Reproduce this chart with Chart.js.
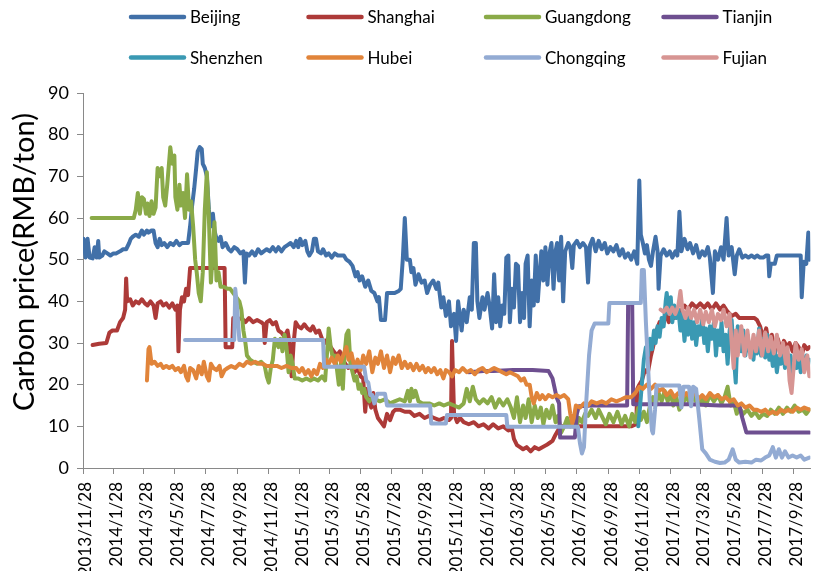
<!DOCTYPE html>
<html>
<head>
<meta charset="utf-8">
<script src="https://cdn.jsdelivr.net/npm/chart.js@4.4.0/dist/chart.umd.min.js"></script>
<style>
  html, body { margin: 0; padding: 0; background: #ffffff; }
  #wrap { position: relative; width: 822px; height: 571px; }
</style>
</head>
<body>
<div id="wrap"><canvas id="chart" width="822" height="571"></canvas></div>
<script>
// Daily carbon prices of the Chinese pilot ETS markets, RMB per ton.
// x values are days counted from 2013-11-28.
const tickLabels = ['2013/11/28','2014/1/28','2014/3/28','2014/5/28','2014/7/28','2014/9/28',
  '2014/11/28','2015/1/28','2015/3/28','2015/5/28','2015/7/28','2015/9/28','2015/11/28',
  '2016/1/28','2016/3/28','2016/5/28','2016/7/28','2016/9/28','2016/11/28','2017/1/28',
  '2017/3/28','2017/5/28','2017/7/28','2017/9/28'];

const seriesNames = ['Beijing','Shanghai','Guangdong','Tianjin','Shenzhen','Hubei','Chongqing','Fujian'];
const seriesColors = ['#4170A8','#AD3A38','#8AAA48','#6E4F90','#3A99B3','#E1843A','#93ABD3','#D79593'];

const beijingDays = [1,5,9,13,19,23,27,30,32,38,42,48,54,60,65,73,79,85,91,94,98,104,110,116,120,126,129,135,139,143,147,151,155,160,166,172,178,184,190,195,201,207,211,215,219,223,226,230,234,236,240,244,248,252,256,259,263,267,271,275,281,287,292,298,304,310,316,319,322,327,333,339,345,351,356,362,368,374,380,385,391,397,403,409,415,420,424,428,432,438,442,446,451,455,459,463,469,473,479,484,490,496,502,508,514,519,525,531,537,541,545,550,556,562,568,574,580,583,587,595,599,607,614,622,626,630,634,638,644,647,651,655,661,667,673,678,684,690,696,700,706,710,715,721,725,731,735,739,743,746,750,756,762,766,770,774,777,781,787,791,797,801,806,810,814,818,822,826,830,834,838,841,845,849,853,857,861,865,869,872,876,880,884,888,892,896,900,903,907,911,915,919,923,927,931,934,938,942,946,950,956,960,964,967,973,979,985,991,995,999,1004,1010,1016,1022,1028,1033,1039,1045,1051,1057,1063,1068,1074,1080,1086,1092,1096,1099,1103,1107,1111,1115,1119,1123,1128,1132,1134,1138,1144,1150,1156,1161,1167,1171,1175,1179,1185,1191,1196,1202,1208,1214,1220,1225,1231,1235,1241,1245,1251,1257,1262,1268,1272,1278,1284,1288,1293,1299,1305,1311,1317,1323,1328,1334,1340,1346,1350,1352,1355,1363,1367,1381,1400,1414,1416,1420,1425,1429,1431];
const beijingPrices = [55,50.5,55,50.5,50.3,53,50.5,54.5,50.5,51,52,51.5,51,51.5,51.5,52,52.5,52.5,54,55,55.5,56,55.5,57,56,57,56.5,57,57,54,53,55,53.5,54,53,54,53.5,54.5,53.5,54,54,54,58,63,67,72,76,77,76.5,73,72,70,62,58,61,57,55,54.5,55.5,53,54,52.5,52,53,52.5,51.5,52,44.5,51.5,51,52,51,52.5,51.5,52,52.5,52,53,52,53,52,53,53.5,54,53,54.5,53,55,53.5,54.5,52,51,52,55,55,52,51.5,52.5,51,51.5,50.5,51.5,51,51,51,50,49.5,48.5,46,47,45,46,43.5,45,42.5,42,40,41,35.5,35.5,42,42,42,42.5,43,50,60,50,50,47,48,44,46.5,44.5,45,42,44,45,43,44.5,38.5,41,36.5,40,34,37,30.5,40,36,33,38,35,41,38,54,54,40,36,41,38,42,39,33.5,46.5,35,41,34,39,37,50.5,51,35,43,38.5,49,48.5,35,42,36,49,51,34,45,39,51,40,47,52,45,53,44,51.5,54,43,52,54,45,55.5,40,52,54,53,48,53.5,54.5,53,54,53,44.5,53.5,55,52,54.5,52.5,54,51.5,53,52,53.5,51,52.5,50.5,51.5,50,52,49,69,56,54,51.5,53.5,50,48.5,52,55.5,52,43,51,52.5,51,52,50.5,52,51,61.5,52,55,52.5,54,51.5,53.5,50.5,52,51,53,50.5,42,52,50,53,50,60,51,53,46.5,51,52.5,50.5,51,50.5,51,50.5,51,50.5,50.5,51,51,46,49,49,51,51,51,51,41,49.5,49,56.5,50];

const shanghaiDays = [19,32,46,52,58,67,73,79,83,85,87,93,98,104,110,116,122,127,133,139,143,147,153,158,164,170,176,182,186,188,191,195,199,203,207,211,226,246,265,279,281,294,296,304,312,320,327,335,343,351,356,358,362,368,374,380,385,391,397,403,407,411,415,419,424,430,436,442,448,453,459,465,471,477,482,488,494,500,506,512,517,523,529,535,541,547,552,556,560,564,568,572,576,581,587,593,599,605,611,616,624,634,644,653,663,673,682,692,702,711,721,725,727,731,737,743,750,760,770,779,789,799,808,818,828,838,845,849,855,861,867,874,882,890,898,905,913,919,925,931,938,944,964,1002,1041,1080,1090,1092,1096,1101,1107,1113,1119,1125,1130,1136,1142,1148,1154,1160,1165,1171,1177,1185,1192,1200,1208,1216,1224,1231,1239,1247,1255,1262,1270,1278,1286,1293,1303,1313,1323,1328,1334,1340,1346,1352,1357,1363,1369,1375,1381,1387,1392,1398,1404,1410,1416,1421,1427,1431];
const shanghaiPrices = [29.5,29.8,30,32.5,33,33,35,36,38,45.5,40,40.5,39,40,39.5,40.5,39.5,39,40,39,36,39.5,40,39,39.5,38.5,39.5,38,39,28,38,41,40,43,41.5,48,48,48,48,48,29,29,36,35.5,36,35,36,35,35.5,35,34.5,30,35,35.5,34.5,35,33,32.5,31.5,33,30,22,30,35,34,33.5,34.5,33.5,33,34,32.5,33,31,30,31,29,28,27,28,26,25,24,25,23,24,22,21.5,13.5,19,16,14.5,18,14,12,11,10,13,11.5,13.5,14,14,13.5,13.5,12.5,13,12,12.5,12,11.5,12,11.5,12,30.5,13,11,12,11,10.5,11,10,10.5,9.5,10.5,9.5,10,9,9.5,7,5.5,5,4.5,5,4,5,4.5,5,5.5,6,6.5,8,9.5,10,10,10,10,10,10.5,19,20,21,23.5,23,27,30,33,35,34,37,35,37.5,36,38,37.5,39,38,39.5,38.5,39.5,38.5,39.5,38,39.5,38,39,37.5,36.5,37,36,36,36,36,35.5,34,31,33.5,29,32,27.5,31,28,30.5,29,30,28,30,29,27,29.5,28.5,29];

const guangdongDays = [17,32,52,71,91,100,104,108,112,116,120,124,127,131,135,139,143,147,151,155,158,162,166,170,172,176,180,182,186,190,193,197,201,205,209,213,217,221,224,228,232,236,240,244,248,252,256,259,263,267,271,277,285,290,296,302,308,312,316,320,323,329,335,343,351,358,362,366,370,374,378,382,385,389,393,397,401,405,409,413,417,424,432,440,448,455,463,471,477,481,484,488,492,496,500,504,508,512,515,519,523,527,531,535,539,543,547,550,554,558,564,570,576,585,595,605,614,624,634,640,644,647,651,655,661,669,682,692,702,711,721,731,741,750,756,762,768,774,781,789,797,805,812,820,828,836,843,849,855,861,867,872,878,884,890,896,902,907,913,919,925,931,936,942,948,954,960,966,971,977,983,989,995,1002,1010,1016,1022,1030,1037,1045,1053,1061,1068,1076,1082,1088,1094,1099,1105,1111,1117,1123,1128,1134,1140,1146,1152,1158,1163,1169,1175,1181,1189,1196,1204,1212,1220,1227,1235,1243,1251,1258,1264,1270,1276,1282,1288,1293,1301,1309,1317,1324,1332,1340,1348,1355,1363,1371,1379,1387,1394,1402,1410,1418,1425,1431];
const guangdongPrices = [60,60,60,60,60,60,62,66,61,65,64.5,61,63.5,60.5,64,61,62.5,72,70,72,65,63,68,74,77,73,75,65,62,68,63,66,60,70.5,62,64,58,50,47,42,40,47,62,71,60,44.5,52,59,45,47,43.5,43.5,43,43,42,41,40,38,33,30,27,26,25.5,25,25.5,24.5,22,20.5,24,26,31,30,29,31,28,32,29,23,27,25,21.5,21.5,21,21.5,21,21.5,21,22,21,28,33.5,29,26.5,27,24,20,25,19,27,32,33,25,23,21,22,19,20,18,19,17,16,17,16.5,16,16.5,15.5,16,16.5,16,18.5,16,19,17,18.5,16,15.5,15.5,15,15.5,15,15.5,15,14.5,15.5,19,16,19.5,16.5,15.5,16.5,15.5,17,14.5,16.5,15,16.5,14.5,12,17,11,15,12,16.5,11,15,12,14.5,10.5,14,12,15,11,12.5,8.5,10,12,10,11.5,9.5,12,11,13,12.5,14,12,14,12.5,10.5,13,11,13.5,10.5,12.5,10,13,11,14.5,11.5,13.5,11,15,17,15,18,16,18.5,16,18,15,17,14,15.5,17,15.5,17,15,16.5,15,17.5,16,17.5,15.5,17,19.5,15,16,13,14.5,13,14,12.5,13.5,12,13,12.5,14,13,14.5,13,14.5,13.5,15,13.5,14,13,14];

const tianjinDays = [760,789,808,847,886,917,925,933,938,940,969,973,977,1002,1041,1072,1074,1082,1084,1119,1196,1255,1293,1299,1307,1352,1390,1431];
const tianjinPrices = [23,23.3,23.3,23.5,23.5,23.3,21.5,17,15.5,7.3,7.3,13,14.8,15,15,15,39.5,39.5,15.3,15.3,15.3,15,15,12,8.5,8.5,8.5,8.5];

const shenzhenDays = [1094,1097,1101,1105,1109,1113,1117,1121,1125,1128,1132,1136,1140,1144,1148,1150,1154,1158,1161,1165,1169,1173,1177,1181,1185,1189,1192,1196,1200,1204,1208,1212,1216,1220,1224,1227,1231,1235,1239,1243,1247,1251,1255,1258,1262,1266,1270,1274,1278,1282,1286,1290,1293,1297,1301,1305,1309,1313,1317,1321,1324,1328,1332,1336,1340,1344,1348,1352,1355,1359,1363,1367,1371,1375,1379,1383,1387,1390,1394,1398,1402,1406,1410,1414,1418,1421,1425,1429,1431];
const shenzhenPrices = [10,14,20,26,29,27,31,28.5,33,30,34,31.5,36,34,40,42,37,41,35,39,36,38,33,37,30.5,36,32,37,31,35,29.5,34,32,36,30,33.5,28,34,31,35,27,33,29.5,35,28,32,25,33,35.5,27,20.5,34,31,28,33,27,32,28,30,26,31,27.5,33.5,27,31,26.5,32,26,29,24.5,28,23,27,25,29,24,28,25,27,22.5,26,24,27.5,23,26,24.5,27,25,26];

const hubeiDays = [126,129,131,135,141,147,153,158,164,170,176,182,188,193,199,203,207,211,217,223,228,234,238,244,248,252,257,263,269,273,279,285,292,300,308,316,323,331,339,347,354,362,372,382,391,401,411,420,426,432,438,444,450,455,461,467,473,479,484,490,496,502,508,514,519,523,529,535,541,547,552,558,564,570,576,581,587,593,599,605,611,616,622,628,634,640,645,651,657,663,669,675,680,686,692,698,704,710,715,721,727,733,741,748,756,764,772,779,787,795,803,810,818,826,834,841,849,857,863,869,874,880,884,888,894,900,905,911,917,925,933,940,948,956,960,964,967,971,979,987,995,1002,1012,1022,1031,1041,1051,1061,1070,1080,1088,1096,1103,1111,1119,1127,1134,1142,1150,1158,1165,1173,1181,1189,1196,1204,1212,1220,1227,1235,1243,1251,1258,1266,1274,1282,1290,1297,1305,1313,1321,1328,1336,1344,1352,1359,1367,1375,1383,1390,1398,1406,1414,1421,1431];
const hubeiPrices = [21,28.5,29,25,25.5,24.5,25,24,24.5,24,24.5,23.5,24,23,24.5,22,21,24,23.5,21.5,24.5,22.5,25.5,22,21,25,24,23.5,24.5,22,23.5,24,24.5,24,25,24.5,25.5,25,25.5,25,25,24.5,24.5,24.5,24,24.5,24,24,23,24,22.5,23.5,22,23.5,22.5,25,24,26,25,26.5,25,27,25.5,27.5,29,26,27.5,24,26,23.5,27,25,28,23,26.5,25,28,24,27,23,26.5,25,27,24,25.5,24,25,23.5,25,23.5,24.5,23,24,23,24,22.5,23.5,21.5,23.5,23,22,23.5,23,24,23,23.5,22.5,23.5,24,23,23.5,24,23.5,23,22.5,23,22.5,22,21,21.5,20,20,17,15.5,18,16.5,17.5,16.5,17.5,17,17.5,17,17.5,16.5,13,10.7,12,15,14.5,15.5,15,16,15.5,16,15.5,16.5,16,16.5,17,17,18,19.5,19,20,19,20,18.5,19,17.5,18.5,17,18,17,18,17,18.5,16.5,17.5,16.5,18,17,17.5,16.5,17,16,16.5,15,15.5,14.5,15,14,14,13.5,14,13,13.5,13,14,13.5,14,13.5,14.5,14,14.5,14];

const chongqingDays = [201,298,300,304,308,473,475,554,558,562,566,570,574,580,595,599,684,686,715,717,834,836,975,979,983,987,991,997,1002,1008,1035,1037,1099,1101,1105,1109,1113,1117,1121,1123,1127,1130,1175,1179,1183,1194,1198,1202,1208,1214,1220,1227,1235,1245,1255,1264,1272,1280,1286,1293,1305,1317,1326,1336,1344,1352,1359,1365,1371,1377,1383,1390,1398,1406,1414,1421,1431];
const chongqingPrices = [30.7,30.7,43,38,30.7,30.7,24.3,24.3,21,20.5,17.5,17.5,15.5,17.8,17.8,15,15,10.7,10.7,12.7,12.7,9.9,9.9,6,3.5,5,15,27,33,34.7,34.7,39.6,39.6,47.5,47.5,35,25,15,9,8.3,14,19.8,19.8,14.5,19.5,19.5,14.8,19.5,19,12,4.5,3.5,2,1.5,1.2,1.3,2,4.5,2,1.3,1.5,1.3,2,1.8,2.5,3,5,2.5,4.5,2.5,4,2.5,3,2.5,3,2,2.5];

const fujianDays = [1138,1144,1150,1156,1161,1167,1173,1177,1181,1187,1192,1198,1204,1210,1216,1222,1227,1233,1239,1245,1251,1257,1262,1268,1274,1278,1282,1286,1290,1293,1297,1303,1309,1315,1321,1326,1332,1338,1344,1350,1355,1361,1367,1373,1379,1385,1388,1392,1396,1400,1404,1410,1416,1421,1427,1431];
const fujianPrices = [38,37.5,38.5,37,38.5,37,39,42.5,38,36,38.5,36,38,35,38,34.5,37.5,35,38,34,37,35.5,38,34,37,30,24,33,27,31,34,27,33,26.5,32,28,33,27,32.5,28,31.5,27.5,32,27,30,25,29,21,18,24,30,26,28.5,23,27,22];

const seriesDays = [beijingDays, shanghaiDays, guangdongDays, tianjinDays, shenzhenDays, hubeiDays, chongqingDays, fujianDays];
const seriesPrices = [beijingPrices, shanghaiPrices, guangdongPrices, tianjinPrices, shenzhenPrices, hubeiPrices, chongqingPrices, fujianPrices];

const DAY_MS = 86400000;
const startMs = Date.UTC(2013, 10, 28);
const tickDays = tickLabels.map(s => {
  const [y, m, d] = s.split('/').map(Number);
  return Math.round((Date.UTC(y, m - 1, d) - startMs) / DAY_MS);
});

const datasets = seriesNames.map((name, i) => ({
  label: name,
  data: seriesDays[i].map((d, k) => ({ x: d, y: seriesPrices[i][k] })),
  borderColor: seriesColors[i],
  backgroundColor: seriesColors[i],
  borderWidth: 4,
  pointRadius: 0,
  tension: 0,
  borderJoinStyle: 'round',
  borderCapStyle: 'round',
  fill: false,
  order: seriesNames.length - 1 - i   // later series painted on top
}));

// Two-row legend and the rotated value-axis title
const decorations = {
  id: 'decorations',
  afterDraw(chart) {
    const ctx = chart.ctx;
    ctx.save();
    ctx.font = '17px Lato';
    ctx.textBaseline = 'middle';
    ctx.textAlign = 'left';
    seriesNames.forEach((name, i) => {
      const col = i % 4, row = Math.floor(i / 4);
      const x = 131 + col * 177.5;
      const y = 17 + row * 40.5;
      ctx.strokeStyle = seriesColors[i];
      ctx.lineWidth = 4.5;
      ctx.lineCap = 'round';
      ctx.beginPath();
      ctx.moveTo(x, y);
      ctx.lineTo(x + 53, y);
      ctx.stroke();
      ctx.fillStyle = '#000000';
      ctx.fillText(name, x + 59, y + 1);
    });
    ctx.translate(25, 262);
    ctx.rotate(-Math.PI / 2);
    ctx.textAlign = 'center';
    ctx.font = '29px Lato';
    ctx.fillStyle = '#000000';
    ctx.fillText('Carbon price(RMB/ton)', 0, 0);
    ctx.restore();
  }
};

Chart.defaults.font.family = 'Lato';
Chart.defaults.color = '#000000';

new Chart(document.getElementById('chart'), {
  type: 'line',
  data: { datasets },
  options: {
    responsive: false,
    devicePixelRatio: 1,
    animation: false,
    parsing: false,
    layout: { padding: { top: 93, right: 0, bottom: 0, left: 0 } },
    plugins: { legend: { display: false }, tooltip: { enabled: false } },
    scales: {
      x: {
        type: 'linear',
        min: 0,
        max: 1433,
        afterBuildTicks: scale => { scale.ticks = tickDays.map(v => ({ value: v })); },
        afterFit: scale => { scale.height = 103; },
        grid: { drawOnChartArea: false, drawTicks: true, tickLength: 6, color: '#898989' },
        border: { color: '#898989', width: 1 },
        ticks: {
          autoSkip: false,
          minRotation: 90,
          maxRotation: 90,
          padding: 8,
          labelOffset: 3,
          font: { size: 17 },
          callback: value => tickLabels[tickDays.indexOf(value)]
        }
      },
      y: {
        min: 0,
        max: 90,
        afterFit: scale => { scale.width = 83; },
        grid: { drawOnChartArea: false, drawTicks: true, tickLength: 6, color: '#898989' },
        border: { color: '#898989', width: 1 },
        ticks: { stepSize: 10, padding: 8, font: { size: 18 } }
      }
    }
  },
  plugins: [decorations]
});
</script>
</body>
</html>
